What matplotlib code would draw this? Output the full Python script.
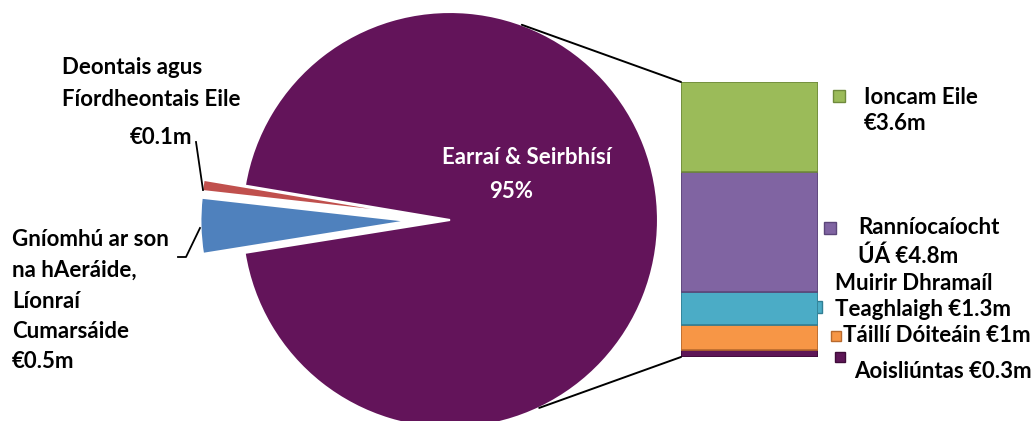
import matplotlib
matplotlib.use("Agg")
import matplotlib.pyplot as plt
from matplotlib.patches import ConnectionPatch
import numpy as np

# ---- data ----
pie_labels = ["Earraí & Seirbhísí", "Deontais agus Fíordheontais Eile",
              "Gníomhú ar son na hAeráide, Líonraí Cumarsáide"]
pie_values = [11.0, 0.1, 0.5]          # €m
pie_colors = ["#63145A", "#C0504D", "#4F81BD"]

bar_labels = ["Aoisliúntas", "Táillí Dóiteáin", "Muirir Dhramaíl Teaghlaigh",
              "Ranníocaíocht ÚÁ", "Ioncam Eile"]
bar_values = [0.3, 1.0, 1.3, 4.8, 3.6]  # €m, bottom to top
bar_colors = ["#5E1657", "#F79646", "#4BACC6", "#8064A2", "#9BBB59"]

W, H = 1032, 421
plt.rcParams['font.family'] = ['Lato', 'DejaVu Sans']
FS = 16

fig = plt.figure(figsize=(W / 100, H / 100), dpi=100)
ax = fig.add_axes([0, 0, 1, 1])

cx, cy, R = 450, 421 - 220, 208
start = 189.1
wedges, _ = ax.pie(pie_values, colors=pie_colors, startangle=start,
                   explode=[0, 0.2 * R, 0.2 * R], center=(cx, cy), radius=R,
                   wedgeprops=dict(linewidth=1.5, edgecolor="white"))
ax.set_xlim(0, W)
ax.set_ylim(0, H)
ax.set_aspect('equal')
ax.axis('off')

def P(x, y):
    return x, H - y

# main label
pct = pie_values[0] / sum(pie_values) * 100
ax.text(*P(527, 158), pie_labels[0], color="white", ha="center", va="center",
        fontsize=FS, fontweight="bold")
ax.text(*P(511, 191), f"{pct:.0f}%", color="white", ha="center", va="center",
        fontsize=FS, fontweight="bold")

# left labels
ax.text(*P(62, 68), "Deontais agus", ha="left", va="center", fontsize=FS, fontweight="bold")
ax.text(*P(62, 99), "Fíordheontais Eile", ha="left", va="center", fontsize=FS, fontweight="bold")
ax.text(*P(192, 138), f"€{pie_values[1]:.1f}m", ha="right", va="center", fontsize=FS, fontweight="bold")
ax.plot(*zip(P(196, 142), P(203, 190)), color="black", lw=1.3)

g_lines = ["Gníomhú ar son", "na hAeráide,", "Líonraí", "Cumarsáide", f"€{pie_values[2]:.1f}m"]
for i, s in enumerate(g_lines):
    ax.text(*P(12, 240 + i * 30.5), s, ha="left", va="center", fontsize=FS, fontweight="bold")
ax.plot(*zip(P(178, 257), P(186, 257), P(200, 228)), color="black", lw=1.3)

# bar of pie
bx0, by0, bw, bh = 681, 421 - 357, 137, 275
bax = fig.add_axes([bx0 / W, by0 / H, bw / W, bh / H])
total = sum(bar_values)
bottoms = np.concatenate([[0], np.cumsum(bar_values)[:-1]])
darker = ["#3F0C39", "#B86A2E", "#317F94", "#5C467A", "#6F8A3C"]
bax.bar([0.5] * len(bar_values), bar_values, bottom=bottoms, width=1.0,
        color=bar_colors, edgecolor=darker, linewidth=1.2)
bax.set_xlim(0, 1)
bax.set_ylim(0, total)
bax.axis('off')

# connector lines
for ang, yb in [(69.8, total), (-64.6, 0)]:
    a = np.deg2rad(ang)
    cp = ConnectionPatch(xyA=(cx + R * np.cos(a), cy + R * np.sin(a)), coordsA=ax.transData,
                         xyB=(0, yb), coordsB=bax.transData, color="black", lw=1.4)
    fig.add_artist(cp)

# legend-like labels
def marker(x, y, c, ec, s=8):
    ax.plot(*P(x, y), marker="s", ms=s, color=c, mec=ec, mew=1.0, zorder=5)

marker(839, 96, bar_colors[4], darker[4])
ax.text(*P(864, 97), "Ioncam Eile", ha="left", va="center", fontsize=FS, fontweight="bold")
ax.text(*P(864, 124), f"€{bar_values[4]:.1f}m", ha="left", va="center", fontsize=FS, fontweight="bold")

marker(830, 228, bar_colors[3], darker[3])
ax.text(*P(858, 228), "Ranníocaíocht", ha="left", va="center", fontsize=FS, fontweight="bold")
ax.text(*P(858, 256), f"ÚÁ €{bar_values[3]:.1f}m", ha="left", va="center", fontsize=FS, fontweight="bold")

marker(816, 307, bar_colors[2], darker[2], s=9)
ax.text(*P(835, 283), "Muirir Dhramaíl", ha="left", va="center", fontsize=FS, fontweight="bold")
ax.text(*P(835, 309), f"Teaghlaigh €{bar_values[2]:.1f}m", ha="left", va="center", fontsize=FS, fontweight="bold")

marker(836, 336, bar_colors[1], darker[1], s=7)
ax.text(*P(843, 335), f"Táillí Dóiteáin €{bar_values[1]:g}m", ha="left", va="center", fontsize=FS, fontweight="bold")

marker(840, 357, bar_colors[0], darker[0], s=7)
ax.text(*P(854, 372), f"Aoisliúntas €{bar_values[0]:.1f}m", ha="left", va="center", fontsize=FS, fontweight="bold")

fig.savefig("out.png", dpi=100)
